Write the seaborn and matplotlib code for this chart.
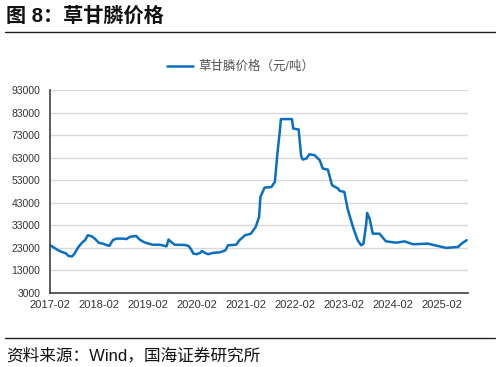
import pandas as pd
import matplotlib
matplotlib.use('Agg')
import matplotlib.pyplot as plt
import matplotlib.dates as mdates
import seaborn as sns

dates = ['2017-02-01', '2017-03-01', '2017-04-01', '2017-05-01', '2017-06-01', '2017-06-20',
         '2017-07-15', '2017-08-01', '2017-09-01', '2017-10-01', '2017-10-20', '2017-11-10',
         '2017-12-10', '2018-01-01', '2018-02-01', '2018-03-01', '2018-04-01', '2018-04-20',
         '2018-05-15', '2018-06-10', '2018-08-01', '2018-08-25', '2018-09-20', '2018-11-05',
         '2018-12-01', '2019-01-01', '2019-02-05', '2019-03-10', '2019-05-01', '2019-06-20',
         '2019-07-05', '2019-07-25', '2019-08-20', '2019-11-01', '2019-12-01', '2019-12-25',
         '2020-01-05', '2020-02-01', '2020-02-25', '2020-03-10', '2020-04-01', '2020-04-25',
         '2020-06-01', '2020-07-20', '2020-09-01', '2020-09-20', '2020-11-20', '2020-12-15',
         '2021-01-25', '2021-02-20', '2021-03-10', '2021-04-15', '2021-05-10', '2021-05-20',
         '2021-06-20', '2021-08-10', '2021-09-05', '2021-09-25', '2021-10-10', '2021-10-20',
         '2022-01-10', '2022-01-20', '2022-03-01', '2022-03-20', '2022-04-01', '2022-04-28',
         '2022-05-20', '2022-06-28', '2022-08-05', '2022-08-28', '2022-10-05', '2022-11-05',
         '2022-12-20', '2023-01-01', '2023-02-05', '2023-03-01', '2023-04-10', '2023-05-15',
         '2023-06-10', '2023-06-28', '2023-07-18', '2023-07-25', '2023-08-12', '2023-09-05',
         '2023-10-25', '2023-12-12', '2024-02-28', '2024-04-28', '2024-07-01', '2024-10-20',
         '2024-12-10', '2025-03-05', '2025-06-01', '2025-07-05', '2025-08-05']
prices = [24200, 23200, 22000, 21200, 20500, 19400,
          19200, 20300, 23400, 25500, 26400, 28600,
          28100, 27100, 25200, 24900, 24200, 23900,
          26400, 27100, 27100, 26900, 27900, 28300,
          26700, 25600, 24900, 24400, 24400, 23700,
          26700, 25600, 24400, 24300, 23900, 21900,
          20500, 20200, 20800, 21600, 20800, 20200,
          20800, 21000, 21900, 24150, 24400, 26400,
          28600, 29000, 29300, 32300, 36700, 45600,
          49700, 50000, 52300, 65600, 73700, 80100,
          80100, 75900, 75500, 63600, 62200, 62600,
          64500, 64100, 61900, 58200, 57700, 50800,
          49300, 48300, 47800, 40400, 32300, 26400,
          24150, 24900, 33700, 38500, 36000, 29300,
          29300, 25900, 25300, 25900, 24600, 24900,
          24150, 23000, 23400, 25200, 26400]
yticks = [3000, 13000, 23000, 33000, 43000, 53000, 63000, 73000, 83000, 93000]
xtick_dates = ['2017-02-01', '2018-02-01', '2019-02-01', '2020-02-01', '2021-02-01',
               '2022-02-01', '2023-02-01', '2024-02-01', '2025-02-01']

df = pd.DataFrame({'date': pd.to_datetime(dates), 'price': prices})

sns.set_style('white')
plt.rcParams['font.family'] = ['Liberation Sans', 'Noto Sans CJK SC', 'DejaVu Sans']

fig = plt.figure(figsize=(4.98, 3.67), dpi=100)
ax = fig.add_axes([50 / 498, 1 - 293 / 367, 418 / 498, 203 / 367])

sns.lineplot(data=df, x='date', y='price', ax=ax, color='#0a6fc2', linewidth=1.8,
             label='草甘膦价格（元/吨）')

ax.set_ylim(3000, 93000)
ax.set_yticks(yticks)
ax.set_xlim(pd.Timestamp('2017-02-01'), pd.Timestamp('2025-08-15'))
ax.set_xticks(pd.to_datetime(xtick_dates))
ax.xaxis.set_major_formatter(mdates.DateFormatter('%Y-%m'))
ax.grid(axis='y', color='#d9d9d9', linewidth=1)
ax.set_axisbelow(True)
ax.set_xlabel('')
ax.set_ylabel('')
for s in ['top', 'right']:
    ax.spines[s].set_visible(False)
for s in ['left', 'bottom']:
    ax.spines[s].set_color('#404040')
    ax.spines[s].set_linewidth(1.2)
ax.tick_params(axis='x', direction='in', length=4, width=1, color='#404040',
               labelsize=8, labelcolor='#333333', pad=5)
ax.tick_params(axis='y', length=0, labelsize=7.5, labelcolor='#333333', pad=7)

ax.legend(loc='center', bbox_to_anchor=(0.455, 1.113), frameon=False,
          fontsize=9, labelcolor='#555555', handlelength=2.1, handletextpad=0.4)

fig.text(6 / 498, 1 - 16 / 367, '图 8：草甘膦价格', fontsize=14.5, fontweight='bold',
         va='center', ha='left', color='#111111')
fig.add_artist(plt.Line2D([5 / 498, 495 / 498], [1 - 32 / 367, 1 - 32 / 367],
                          color='#222222', linewidth=1))
fig.add_artist(plt.Line2D([5 / 498, 495 / 498], [1 - 338 / 367, 1 - 338 / 367],
                          color='#222222', linewidth=1))
fig.text(6 / 498, 1 - 355 / 367, '资料来源：Wind，国海证券研究所', fontsize=12,
         va='center', ha='left', color='#111111')

fig.savefig('out.png', dpi=100)
